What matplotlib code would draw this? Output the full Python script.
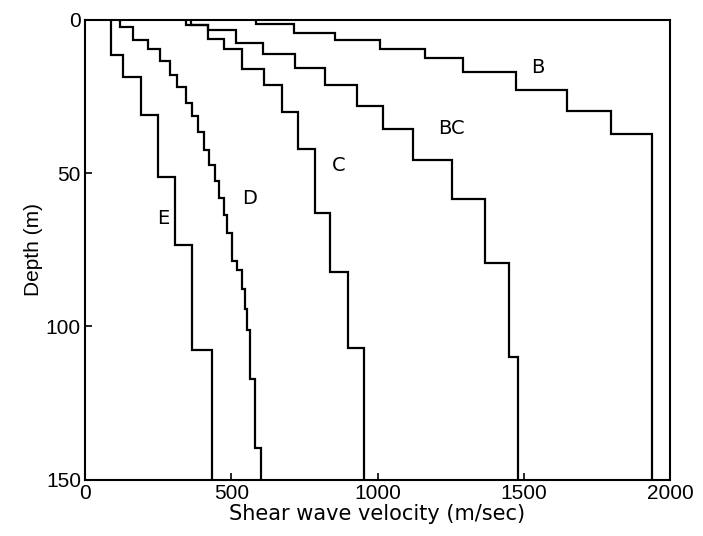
import matplotlib
matplotlib.use("Agg")
import matplotlib.pyplot as plt

# Shear-wave velocity profiles (m/s) and layer boundaries (m)
vel_E = [87, 130, 190, 248, 306, 367, 433]
dep_E = [0, 11.6, 18.5, 30.9, 51.3, 73.3, 107.6, 150]

vel_D = [121, 164, 215, 255, 289, 316, 344, 364, 385, 405, 423, 446, 459,
         474, 487, 504, 518, 536, 547, 553, 564, 580, 601]
dep_D = [0, 2.5, 6.6, 9.5, 13.5, 17.9, 22.0, 27.1, 31.5, 36.6, 42.3, 47.2,
         52.6, 58.0, 63.6, 69.4, 78.7, 81.7, 87.7, 94.3, 101.1, 117.2, 139.7, 150]

vel_C = [346, 419, 475, 537, 612, 673, 728, 787, 838, 898, 955]
dep_C = [0, 1.7, 6.1, 9.4, 16.0, 21.3, 30.2, 42.2, 62.9, 82.2, 106.9, 150]

vel_BC = [363, 419, 516, 609, 717, 822, 930, 1018, 1123, 1255, 1369, 1451, 1482]
dep_BC = [0, 1.8, 3.4, 7.6, 11.0, 15.7, 21.4, 28.1, 35.7, 45.6, 58.3, 79.4,
          109.9, 150]

vel_B = [584, 714, 855, 1009, 1161, 1294, 1474, 1647, 1797, 1940]
dep_B = [0, 1.2, 4.2, 6.5, 9.4, 12.6, 16.9, 22.9, 29.8, 37.4, 150]

labels = ["B", "BC", "C", "D", "E"]
label_v = [1524, 1207, 844, 537, 248]
label_d = [15.4, 35.3, 47.4, 58.4, 64.7]

x_ticks = [0, 500, 1000, 1500, 2000]
y_ticks = [0, 50, 100, 150]

fig = plt.figure(figsize=(7.03, 5.36), dpi=100)
ax = fig.add_axes([0.121, 0.105, 0.832, 0.858])

for v, d in [(vel_E, dep_E), (vel_D, dep_D), (vel_C, dep_C),
             (vel_BC, dep_BC), (vel_B, dep_B)]:
    ax.stairs(v, d, orientation="horizontal", baseline=None,
              color="black", lw=1.6)

for t, v, d in zip(labels, label_v, label_d):
    ax.text(v, d, t, fontsize=14, family="DejaVu Sans", ha="left", va="center")

ax.set_xlim(0, 2000)
ax.set_ylim(150, 0)
ax.set_xticks(x_ticks)
ax.set_yticks(y_ticks)
ax.tick_params(direction="in", length=5, width=1.2, labelsize=15,
               top=False, right=False, pad=3)
for lab in ax.get_xticklabels() + ax.get_yticklabels():
    lab.set_family("Liberation Sans")
for s in ax.spines.values():
    s.set_linewidth(1.5)

ax.set_xlabel("Shear wave velocity (m/sec)", fontsize=15,
              family="DejaVu Sans", labelpad=1)
ax.set_ylabel("Depth (m)", fontsize=15, family="Liberation Sans", labelpad=2)

fig.savefig("out.png", dpi=100)
